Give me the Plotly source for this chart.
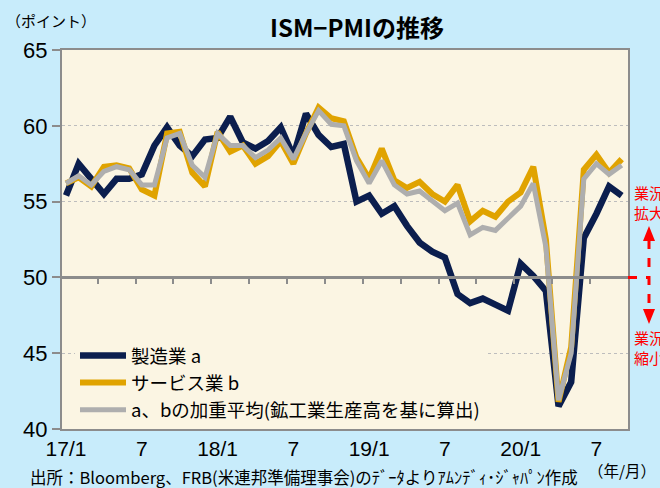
import plotly.graph_objects as go

# ---- data (monthly, 2017/1 .. 2020/9) ----
month_index = list(range(45))
manufacturing = [55.4, 57.5, 56.5, 55.5, 56.5, 56.5, 56.8, 58.7, 59.9, 58.7, 58.0, 59.1,
                 59.2, 60.6, 58.9, 58.5, 59.0, 59.9, 58.0, 60.8, 59.4, 58.6, 58.8, 55.0,
                 55.4, 54.2, 54.7, 53.4, 52.3, 51.7, 51.3, 48.9, 48.3, 48.6, 48.2, 47.8,
                 50.9, 50.1, 49.1, 41.5, 43.1, 52.6, 54.2, 56.0, 55.4]
services = [56.2, 56.6, 56.0, 57.3, 57.4, 57.2, 55.8, 55.4, 59.5, 59.6, 56.9, 56.0,
            59.6, 58.3, 58.7, 57.5, 58.0, 59.0, 57.5, 59.5, 61.2, 60.5, 60.3, 57.9,
            56.5, 58.5, 56.4, 55.9, 56.3, 55.5, 55.0, 56.1, 53.7, 54.4, 54.0, 55.0,
            55.6, 57.3, 52.5, 41.8, 45.4, 57.1, 58.1, 56.9, 57.8]
weighted = [56.2, 56.7, 56.1, 57.0, 57.3, 57.1, 56.1, 56.1, 59.2, 59.5, 57.4, 56.6,
            59.5, 58.7, 58.7, 57.9, 58.4, 59.2, 57.8, 59.5, 61.0, 60.1, 60.0, 57.7,
            56.2, 57.7, 56.1, 55.5, 55.7, 55.0, 54.4, 54.9, 52.8, 53.3, 53.1, 53.9,
            54.7, 56.2, 52.0, 41.9, 45.0, 56.5, 57.5, 56.8, 57.4]
series_names = ["製造業 a", "サービス業 b", "a、bの加重平均(鉱工業生産高を基に算出)"]
x_tick_pos = [0, 6, 12, 18, 24, 30, 36, 42]
x_tick_text = ["17/1", "7", "18/1", "7", "19/1", "7", "20/1", "7"]
y_ticks = [40, 45, 50, 55, 60, 65]

JP = "Noto Sans CJK JP"
NUM = "Liberation Sans, Arial, Noto Sans CJK JP"
RED = "#FF0000"
GRAY = "#8C8C8C"
PAPER = "#C8ECFB"
PLOTBG = "#FBF5E3"

fig = go.Figure()
fig.add_trace(go.Scatter(x=month_index, y=manufacturing, name=series_names[0], mode="lines",
                         line=dict(color="#0B1E4E", width=6.5)))
fig.add_trace(go.Scatter(x=month_index, y=services, name=series_names[1], mode="lines",
                         line=dict(color="#E0A300", width=6)))
fig.add_trace(go.Scatter(x=month_index, y=weighted, name=series_names[2], mode="lines",
                         line=dict(color="#AEAEAE", width=5)))
# helper axis at 50 (axis line with boundary ticks)
fig.add_trace(go.Scatter(x=[None], y=[None], xaxis="x2", showlegend=False, hoverinfo="skip"))

xr = [-0.32, 44.5]
fig.update_layout(
    width=660, height=488,
    paper_bgcolor=PAPER, plot_bgcolor=PLOTBG,
    margin=dict(l=62, r=32, t=50, b=59),
    font=dict(family=NUM, color="black"),
    xaxis=dict(range=xr, tickvals=x_tick_pos, ticktext=x_tick_text, showgrid=False,
               zeroline=False, showline=True, mirror=True, linecolor=GRAY, linewidth=2,
               ticks="", tickfont=dict(size=21, family=NUM)),
    xaxis2=dict(range=xr, overlaying="x", anchor="free", position=0.4, showline=True,
                linecolor=GRAY, linewidth=3, ticks="outside", ticklen=5, tickwidth=2,
                tickcolor=GRAY, tickvals=[i + 0.5 for i in range(2, 44, 3)],
                showticklabels=False, showgrid=False, zeroline=False),
    yaxis=dict(range=[40, 65], tickvals=y_ticks, showgrid=True, gridcolor="#BDBDBD",
               griddash="dot", gridwidth=1, zeroline=False, showline=True, mirror=True,
               linecolor=GRAY, linewidth=2, ticks="outside", ticklen=8, tickcolor=GRAY,
               tickwidth=2, tickfont=dict(size=22, family=NUM)),
    legend=dict(x=(75 - 62) / 566, y=0.0, xanchor="left", yanchor="bottom", bgcolor=PLOTBG,
                font=dict(size=18.5, family=JP), tracegroupgap=0, itemwidth=46,
                traceorder="normal"),
    showlegend=True,
)

def px_x(px):
    return (px - 62) / 566

def px_y(py):
    return (429 - py) / 379

ann = [
    dict(text="<b>ISM−PMIの推移</b>", x=px_x(357), y=px_y(27), font=dict(size=24, family=JP)),
    dict(text="（ポイント）", x=px_x(4), y=px_y(21), xanchor="left", font=dict(size=15, family=JP)),
    dict(text="出所：Bloomberg、FRB(米連邦準備理事会)のﾃﾞｰﾀよりｱﾑﾝﾃﾞｨ･ｼﾞｬﾊﾟﾝ作成", x=px_x(28), y=px_y(477),
         xanchor="left", font=dict(size=16.5, family=JP)),
    dict(text="（年/月）", x=px_x(586), y=px_y(470), xanchor="left", font=dict(size=15.5, family=JP)),
    dict(text="業況<br>拡大", x=px_x(632), y=px_y(202), xanchor="left", font=dict(size=15, family=JP, color=RED)),
    dict(text="業況<br>縮小", x=px_x(632), y=px_y(347), xanchor="left", font=dict(size=15, family=JP, color=RED)),
]
for a in ann:
    a.setdefault("xanchor", "center")
    fig.add_annotation(xref="paper", yref="paper", showarrow=False, yanchor="middle", **a)

ax = px_x(649)
hw = 6 / 566
fig.add_shape(type="line", xref="paper", yref="y", x0=1.0, x1=ax, y0=50, y1=50,
              line=dict(color=RED, width=3, dash="dash"))
fig.add_shape(type="line", xref="paper", yref="paper", x0=ax, x1=ax, y0=px_y(240), y1=px_y(310),
              line=dict(color=RED, width=3, dash="dash"))
fig.add_shape(type="path", xref="paper", yref="paper",
              path=f"M {ax-hw},{px_y(241)} L {ax+hw},{px_y(241)} L {ax},{px_y(226)} Z",
              fillcolor=RED, line=dict(color=RED, width=0))
fig.add_shape(type="path", xref="paper", yref="paper",
              path=f"M {ax-hw},{px_y(309)} L {ax+hw},{px_y(309)} L {ax},{px_y(324)} Z",
              fillcolor=RED, line=dict(color=RED, width=0))

fig.write_html("out.html", config={"displayModeBar": False},
               post_script=f"document.body.style.margin='0';document.body.style.background='{PAPER}';")
